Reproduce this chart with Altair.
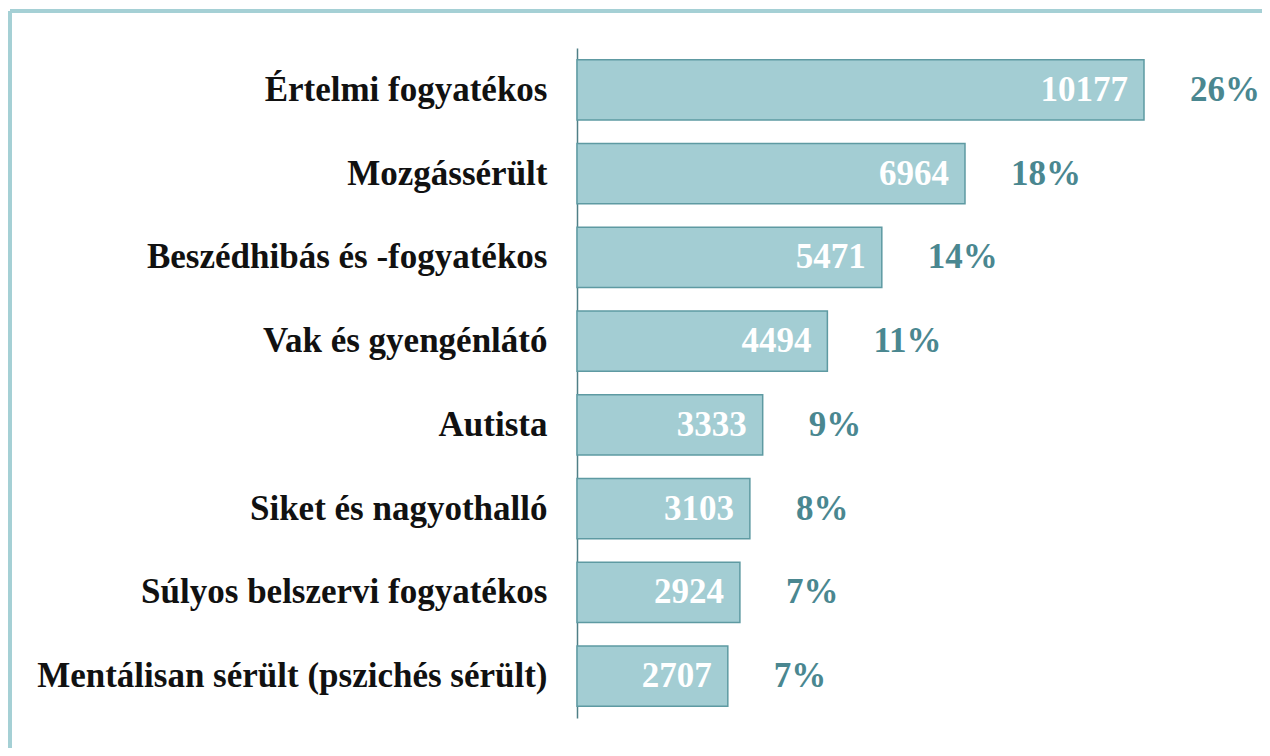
import altair as alt
import pandas as pd

categories = [
    "Értelmi fogyatékos",
    "Mozgássérült",
    "Beszédhibás és -fogyatékos",
    "Vak és gyengénlátó",
    "Autista",
    "Siket és nagyothalló",
    "Súlyos belszervi fogyatékos",
    "Mentálisan sérült (pszichés sérült)",
]
values = [10177, 6964, 5471, 4494, 3333, 3103, 2924, 2707]
percents = ["26%", "18%", "14%", "11%", "9%", "8%", "7%", "7%"]

df = pd.DataFrame({"cat": categories, "value": values, "pct": percents})

FONT = "Liberation Serif"
W, H = 683, 670

y = alt.Y("cat:N", sort=categories, title=None,
          scale=alt.Scale(paddingInner=0.28, paddingOuter=0.14),
          axis=alt.Axis(labelFont=FONT, labelFontSize=35, labelFontWeight="bold",
                        labelColor="#111111", ticks=False, labelPadding=30,
                        domainColor="#4F7F86", domainWidth=1.5, labelLimit=600))
x = alt.X("value:Q", title=None, scale=alt.Scale(domain=[0, 12259], nice=False),
          axis=None)

base = alt.Chart(df)
bars = base.mark_bar(color="#A3CDD3", stroke="#5E9AA2", strokeWidth=1.5).encode(x=x, y=y)
vals = base.mark_text(align="right", baseline="middle", dx=-16, font=FONT,
                      fontSize=35, fontWeight="bold", color="white").encode(
    x=x, y=y, text="value:Q")
pcts = base.mark_text(align="left", baseline="middle", dx=46, font=FONT,
                      fontSize=35, fontWeight="bold", color="#4A8790").encode(
    x=x, y=y, text="pct:N")

top_rule = alt.Chart(df).mark_rule(color="#A5D0D5", strokeWidth=4).encode(
    x=alt.value(-567), x2=alt.value(W + 20), y=alt.value(-37))
left_rule = alt.Chart(df).mark_rule(color="#A5D0D5", strokeWidth=4).encode(
    x=alt.value(-567), y=alt.value(-37), y2=alt.value(H + 40))

chart = alt.layer(top_rule, left_rule, bars, vals, pcts).properties(
    width=W, height=H,
    background="white",
    autosize=alt.AutoSizeParams(type="none"),
    padding={"left": 569, "top": 40, "right": 2, "bottom": 30},
).configure_view(strokeWidth=0, stroke=None)

chart.save("out.html", embed_options={"renderer": "svg", "actions": False})
